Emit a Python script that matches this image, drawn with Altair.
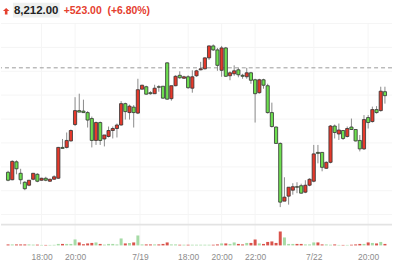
import altair as alt
import pandas as pd

# ---- header texts ----
last_price = "8,212.00"
change_abs = "+523.00"
change_pct = "(+6.80%)"

# ---- 15-minute candles (price units) ----
opens = [8055, 8040, 8076, 8053, 8035, 8029, 8041, 8051, 8039, 8043, 8037, 8041, 8043, 8105, 8105, 8118, 8151, 8179, 8178, 8175, 8163, 8119, 8155,
         8122, 8127, 8139, 8143, 8150, 8193, 8175, 8186, 8174, 8222, 8227, 8215, 8213, 8227, 8228, 8275, 8203, 8229, 8250, 8244, 8247, 8224,
         8249, 8261, 8263, 8285, 8309, 8301, 8260, 8305, 8249, 8253, 8261, 8250, 8247, 8255, 8241, 8215, 8241, 8229, 8175, 8146, 8113, 7997,
         8007, 8019, 8026, 8028, 8015, 8029, 8037, 8095, 8095, 8063, 8075, 8148, 8132, 8139, 8127, 8146, 8141, 8119, 8102, 8165, 8157, 8181, 8179, 8217]
closes = [8039, 8077, 8062, 8040, 8022, 8039, 8053, 8037, 8043, 8039, 8041, 8046, 8105, 8103, 8119, 8139, 8179, 8176, 8175, 8160, 8119, 8155, 8119,
          8130, 8139, 8143, 8150, 8193, 8177, 8188, 8175, 8221, 8230, 8212, 8213, 8224, 8226, 8204, 8202, 8229, 8248, 8245, 8247, 8225, 8247,
          8259, 8263, 8285, 8309, 8301, 8270, 8305, 8248, 8255, 8259, 8251, 8248, 8255, 8240, 8213, 8241, 8230, 8175, 8147, 8113, 7995, 8005,
          8025, 8026, 8025, 8013, 8029, 8041, 8092, 8093, 8065, 8075, 8148, 8135, 8140, 8123, 8143, 8141, 8118, 8102, 8161, 8155, 8181, 8175, 8218, 8209]
highs = [8058, 8079, 8079, 8062, 8037, 8039, 8053, 8053, 8044, 8046, 8042, 8049, 8106, 8122, 8135, 8141, 8206, 8213, 8201, 8178, 8167, 8157, 8157,
         8130, 8147, 8147, 8153, 8198, 8195, 8191, 8190, 8243, 8231, 8229, 8218, 8231, 8230, 8228, 8276, 8229, 8250, 8258, 8249, 8250, 8260,
         8261, 8277, 8286, 8310, 8312, 8305, 8309, 8307, 8258, 8270, 8265, 8253, 8265, 8257, 8243, 8243, 8243, 8233, 8195, 8147, 8115, 8045,
         8025, 8033, 8035, 8032, 8039, 8043, 8110, 8110, 8095, 8077, 8150, 8151, 8153, 8140, 8147, 8163, 8141, 8130, 8170, 8170, 8187, 8188, 8227, 8227]
lows = [8037, 8039, 8051, 8031, 8019, 8027, 8039, 8035, 8038, 8037, 8036, 8040, 8042, 8103, 8103, 8117, 8148, 8176, 8175, 8145, 8105, 8110, 8110,
        8107, 8125, 8123, 8125, 8149, 8161, 8161, 8145, 8172, 8222, 8211, 8211, 8213, 8217, 8203, 8201, 8199, 8228, 8243, 8243, 8223, 8215,
        8247, 8260, 8262, 8281, 8299, 8259, 8247, 8247, 8240, 8249, 8246, 8243, 8243, 8233, 8155, 8213, 8223, 8173, 8145, 8112, 7985, 7997,
        7990, 8010, 8013, 8012, 8013, 8027, 8035, 8073, 8057, 8062, 8073, 8123, 8120, 8120, 8125, 8140, 8117, 8097, 8100, 8143, 8155, 8173, 8177, 8193]
volumes = [100, 100, 100, 100, 100, 100, 80, 80, 50, 50, 50, 60, 150, 150, 150, 150, 600, 300, 120, 200, 250, 300, 150,
           80, 150, 150, 100, 700, 200, 250, 300, 1000, 100, 100, 100, 100, 100, 150, 300, 100, 100, 70, 70, 70, 70,
           70, 70, 70, 70, 70, 100, 200, 200, 150, 300, 150, 100, 250, 250, 600, 200, 150, 350, 400, 250, 1400, 800,
           150, 150, 150, 150, 100, 100, 300, 300, 100, 100, 70, 100, 50, 50, 50, 70, 100, 150, 150, 300, 250, 200, 350, 150]

# ---- axis ticks / reference levels ----
tick_pos = [8, 16, 31.5, 43, 51, 59, 73, 86]
tick_labels = ["18:00", "20:00", "7/19", "18:00", "20:00", "22:00", "7/22", "20:00"]
grid_prices = [8354, 8306, 8258, 8210, 8162, 8114, 8066, 8018, 7970]
ref_price = 8265
panel_split = 7950

# ---- styling ----
RED = "#e6392b"
GREEN = "#6ddf4f"
VOL_RED = "#d9534b"
VOL_GREEN = "#a6dba6"
TXT_RED = "#e5402f"
GRID = "#f5f5f5"

n = len(opens)
df = pd.DataFrame({"i": list(range(n)), "open": opens, "close": closes,
                   "high": highs, "low": lows, "vol": volumes})
ticks_df = pd.DataFrame({"i": tick_pos, "lab": tick_labels})
grid_df = pd.DataFrame({"p": grid_prices})
one = pd.DataFrame({"k": [0]})

P_DOMAIN = [7908, 8400]
ysc = alt.Scale(domain=P_DOMAIN, nice=False, zero=False)
xsc = alt.Scale(domain=[-0.5, n - 0.5], nice=False, zero=False)

label_expr = " : ".join(f"datum.value == {p} ? '{l}'" for p, l in zip(tick_pos, tick_labels)) + " : ''"
xaxis = alt.Axis(values=tick_pos, labelExpr=label_expr, grid=False, domain=False,
                 ticks=False, tickSize=0, labelPadding=7, labelFontSize=8.5,
                 labelColor="#8c8c8c", labelFont="Liberation Sans", title=None,
                 labelFlush=False, labelOverlap=False)
X = alt.X("i:Q", scale=xsc, axis=xaxis)

hgrid = alt.Chart(grid_df).mark_rule(color=GRID, strokeWidth=1).encode(
    y=alt.Y("p:Q", scale=ysc, axis=None))

vgrid = alt.Chart(ticks_df).mark_rule(color=GRID, strokeWidth=1).encode(
    x=X,
    y=alt.Y(datum=grid_prices[0], type="quantitative", scale=ysc, axis=None),
    y2=alt.Y2(datum=P_DOMAIN[0]))

sep = alt.Chart(one).mark_rule(color="#e3e3e3", strokeWidth=1.8).encode(
    y=alt.Y(datum=panel_split, type="quantitative", scale=ysc, axis=None))

dashed = alt.Chart(one).mark_rule(color="#9a9a9a", strokeWidth=1, strokeDash=[4, 3]).encode(
    y=alt.Y(datum=ref_price, type="quantitative", scale=ysc, axis=None))

up = "datum.close > datum.open"

vol = alt.Chart(df).mark_bar(size=3).encode(
    x=X,
    y=alt.Y("vol:Q", scale=alt.Scale(domain=[0, 24600], nice=False), axis=None),
    color=alt.condition(up, alt.value(VOL_GREEN), alt.value(VOL_RED)))

wick = alt.Chart(df).mark_rule(color="#8a8a8a", strokeWidth=1).encode(
    x=X, y=alt.Y("low:Q", scale=ysc, axis=None), y2="high:Q")

body = alt.Chart(df).mark_bar(size=3.2, stroke="#333333", strokeWidth=0.8).encode(
    x=X, y=alt.Y("open:Q", scale=ysc, axis=None), y2="close:Q",
    color=alt.condition(up, alt.value(RED), alt.value(GREEN)))

hdr_bg = alt.Chart(one).mark_rect(color="#eef0ef").encode(
    x=alt.value(12), x2=alt.value(59), y=alt.value(2), y2=alt.value(17))

arrow = alt.Chart(one).mark_point(
    shape="M0,-1L1,-0.1L0.4,-0.1L0.4,1L-0.4,1L-0.4,-0.1L-1,-0.1Z",
    filled=True, color=TXT_RED, size=42, opacity=1).encode(
    x=alt.value(5.2), y=alt.value(10.6))

price_txt = alt.Chart(pd.DataFrame({"t": [last_price]})).mark_text(
    align="left", baseline="alphabetic", font="Liberation Sans", fontSize=11.5,
    fontWeight="bold", color="#222222").encode(
    x=alt.value(13), y=alt.value(13.8), text="t:N")

chg_txt = alt.Chart(pd.DataFrame({"t": [change_abs]})).mark_text(
    align="left", baseline="alphabetic", font="Liberation Sans", fontSize=10.5,
    fontWeight="bold", color=TXT_RED).encode(
    x=alt.value(63), y=alt.value(13.8), text="t:N")

pct_txt = alt.Chart(pd.DataFrame({"t": [change_pct]})).mark_text(
    align="left", baseline="alphabetic", font="Liberation Sans", fontSize=10.5,
    fontWeight="bold", color=TXT_RED).encode(
    x=alt.value(107), y=alt.value(13.8), text="t:N")

chart = alt.layer(
    hgrid, vgrid, sep, dashed, vol, wick, body, hdr_bg, arrow, price_txt, chg_txt, pct_txt
).resolve_scale(y="independent").properties(
    width=393, height=246, padding=0
).configure_view(stroke=None)

chart.save("out.html", embed_options={"renderer": "svg", "actions": False})
